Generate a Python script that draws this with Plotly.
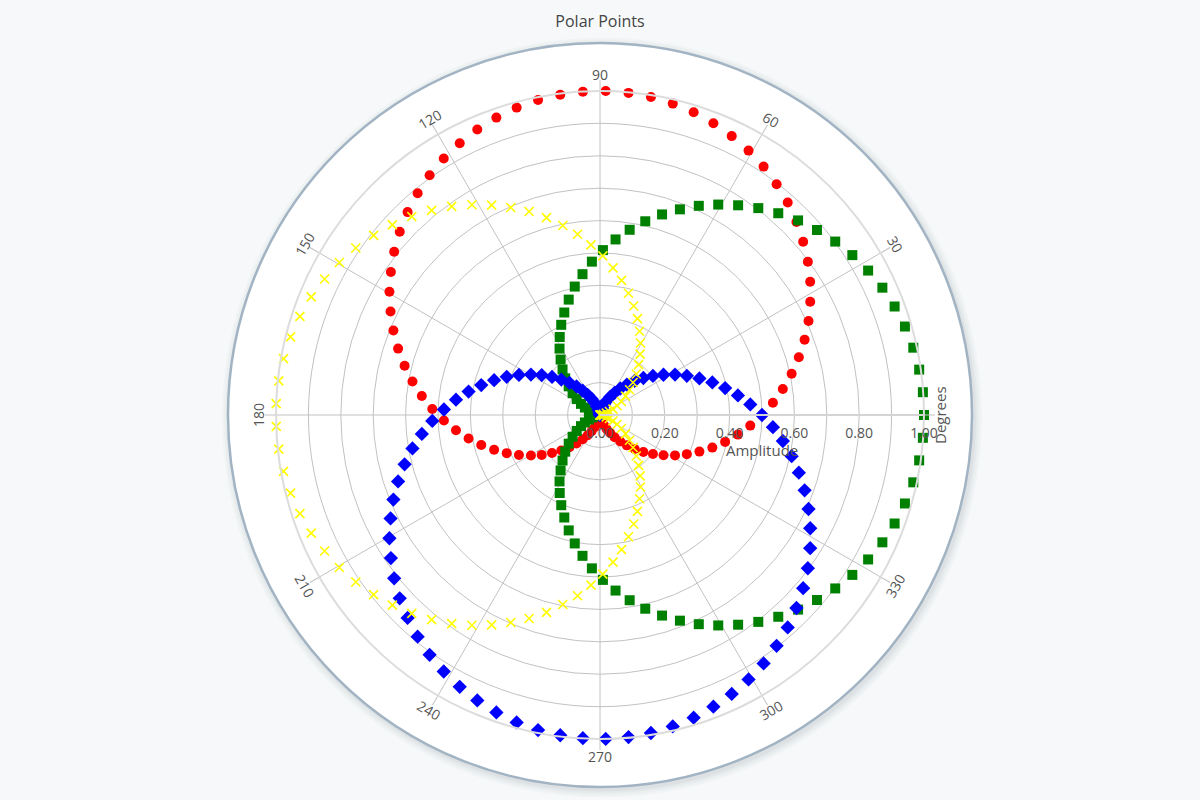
import numpy as np
import plotly.graph_objects as go

# ---- data ----
angle_deg = [
    0.00, 4.04, 8.09, 12.13, 16.18, 20.22, 24.27, 28.31, 32.36, 36.40,
    40.45, 44.49, 48.54, 52.58, 56.63, 60.67, 64.72, 68.76, 72.81, 76.85,
    80.90, 84.94, 88.99, 93.03, 97.08, 101.12, 105.17, 109.21, 113.26, 117.30,
    121.35, 125.39, 129.44, 133.48, 137.53, 141.57, 145.62, 149.66, 153.71, 157.75,
    161.80, 165.84, 169.89, 173.93, 177.98, 182.02, 186.07, 190.11, 194.16, 198.20,
    202.25, 206.29, 210.34, 214.38, 218.43, 222.47, 226.52, 230.56, 234.61, 238.65,
    242.70, 246.74, 250.79, 254.83, 258.88, 262.92, 266.97, 271.01, 275.06, 279.10,
    283.15, 287.19, 291.24, 295.28, 299.33, 303.37, 307.42, 311.46, 315.51, 319.55,
    323.60, 327.64, 331.69, 335.73, 339.78, 343.82, 347.87, 351.91, 355.96,
]
red_circles = [
    0.500, 0.535, 0.570, 0.605, 0.639, 0.673, 0.706, 0.737, 0.768, 0.797,
    0.824, 0.850, 0.875, 0.897, 0.918, 0.936, 0.952, 0.966, 0.978, 0.987,
    0.994, 0.998, 1.000, 0.999, 0.996, 0.991, 0.983, 0.972, 0.959, 0.944,
    0.927, 0.908, 0.886, 0.863, 0.838, 0.811, 0.782, 0.753, 0.721, 0.689,
    0.656, 0.622, 0.588, 0.553, 0.518, 0.482, 0.447, 0.412, 0.378, 0.344,
    0.311, 0.279, 0.247, 0.218, 0.189, 0.162, 0.137, 0.114, 0.092, 0.073,
    0.056, 0.041, 0.028, 0.017, 0.009, 0.004, 0.001, 0.000, 0.002, 0.006,
    0.013, 0.022, 0.034, 0.048, 0.064, 0.082, 0.103, 0.125, 0.150, 0.176,
    0.203, 0.232, 0.263, 0.294, 0.327, 0.361, 0.395, 0.430, 0.465,
]
green_squares = [
    1.000, 0.999, 0.995, 0.989, 0.980, 0.969, 0.956, 0.940, 0.922, 0.902,
    0.880, 0.857, 0.831, 0.804, 0.775, 0.745, 0.714, 0.681, 0.648, 0.614,
    0.579, 0.544, 0.509, 0.474, 0.438, 0.404, 0.369, 0.335, 0.303, 0.271,
    0.240, 0.210, 0.182, 0.156, 0.131, 0.108, 0.087, 0.068, 0.052, 0.037,
    0.025, 0.015, 0.008, 0.003, 0.000, 0.000, 0.003, 0.008, 0.015, 0.025,
    0.037, 0.052, 0.068, 0.087, 0.108, 0.131, 0.156, 0.182, 0.210, 0.240,
    0.271, 0.303, 0.335, 0.369, 0.404, 0.438, 0.474, 0.509, 0.544, 0.579,
    0.614, 0.648, 0.681, 0.714, 0.745, 0.775, 0.804, 0.831, 0.857, 0.880,
    0.902, 0.922, 0.940, 0.956, 0.969, 0.980, 0.989, 0.995, 0.999,
]
blue_diamonds = [
    0.500, 0.465, 0.430, 0.395, 0.361, 0.327, 0.294, 0.263, 0.232, 0.203,
    0.176, 0.150, 0.125, 0.103, 0.082, 0.064, 0.048, 0.034, 0.022, 0.013,
    0.006, 0.002, 0.000, 0.001, 0.004, 0.009, 0.017, 0.028, 0.041, 0.056,
    0.073, 0.092, 0.114, 0.137, 0.162, 0.189, 0.218, 0.247, 0.279, 0.311,
    0.344, 0.378, 0.412, 0.447, 0.482, 0.518, 0.553, 0.588, 0.622, 0.656,
    0.689, 0.721, 0.753, 0.782, 0.811, 0.838, 0.863, 0.886, 0.908, 0.927,
    0.944, 0.959, 0.972, 0.983, 0.991, 0.996, 0.999, 1.000, 0.998, 0.994,
    0.987, 0.978, 0.966, 0.952, 0.936, 0.918, 0.897, 0.875, 0.850, 0.824,
    0.797, 0.768, 0.737, 0.706, 0.673, 0.639, 0.605, 0.570, 0.535,
]
yellow_crosses = [
    0.000, 0.001, 0.005, 0.011, 0.020, 0.031, 0.044, 0.060, 0.078, 0.098,
    0.120, 0.143, 0.169, 0.196, 0.225, 0.255, 0.286, 0.319, 0.352, 0.386,
    0.421, 0.456, 0.491, 0.526, 0.562, 0.596, 0.631, 0.665, 0.697, 0.729,
    0.760, 0.790, 0.818, 0.844, 0.869, 0.892, 0.913, 0.932, 0.948, 0.963,
    0.975, 0.985, 0.992, 0.997, 1.000, 1.000, 0.997, 0.992, 0.985, 0.975,
    0.963, 0.948, 0.932, 0.913, 0.892, 0.869, 0.844, 0.818, 0.790, 0.760,
    0.729, 0.697, 0.665, 0.631, 0.596, 0.562, 0.526, 0.491, 0.456, 0.421,
    0.386, 0.352, 0.319, 0.286, 0.255, 0.225, 0.196, 0.169, 0.143, 0.120,
    0.098, 0.078, 0.060, 0.044, 0.031, 0.020, 0.011, 0.005, 0.001,
]
angular_ticks = [0, 30, 60, 90, 120, 150, 180, 210, 240, 270, 300, 330]
angular_labels = ["", "30", "60", "90", "120", "150", "180", "210", "240", "270", "300", "330"]
radial_ticks = [0.0, 0.1, 0.2, 0.3, 0.4, 0.5, 0.6, 0.7, 0.8, 0.9, 1.0]
radial_labels = ["0.00", "", "0.20", "", "0.40", "", "0.60", "", "0.80", "", "1.00"]

FONT = "Open Sans"
TXT = "#555555"

fig = go.Figure()
fig.add_trace(go.Scatterpolar(r=red_circles, theta=angle_deg, mode="markers",
                              marker=dict(symbol="circle", size=10, color="#ff0000")))
fig.add_trace(go.Scatterpolar(r=green_squares, theta=angle_deg, mode="markers",
                              marker=dict(symbol="square", size=10, color="#008000")))
fig.add_trace(go.Scatterpolar(r=blue_diamonds, theta=angle_deg, mode="markers",
                              marker=dict(symbol="diamond", size=11, color="#0000ff")))
fig.add_trace(go.Scatterpolar(r=yellow_crosses, theta=angle_deg, mode="markers",
                              marker=dict(symbol="x-thin", size=9, color="#ffff00",
                                          line=dict(color="#ffff00", width=1.6))))

# plot circle (white disc with border and soft shadow)
R_OUT = 372 / 324
shapes = []
for i, a in enumerate([0.025, 0.03, 0.035, 0.045]):
    d = (8 - 2 * i) / 324 / 2
    shapes.append(dict(type="circle", xref="paper", yref="paper",
                       x0=0.5 - R_OUT / 2 - d + 0.003, x1=0.5 + R_OUT / 2 + d + 0.003,
                       y0=0.5 - R_OUT / 2 - d - 0.004, y1=0.5 + R_OUT / 2 + d - 0.004,
                       fillcolor=f"rgba(60,80,100,{a})", line=dict(width=0), layer="below"))
shapes.append(dict(type="circle", xref="paper", yref="paper",
                   x0=0.5 - R_OUT / 2, x1=0.5 + R_OUT / 2,
                   y0=0.5 - R_OUT / 2, y1=0.5 + R_OUT / 2,
                   fillcolor="#ffffff", line=dict(color="#a2b4c3", width=2.5), layer="below"))

# tangential angular tick labels and axis titles
ann = []
LR = 341 / 324
for t, lab in zip(angular_ticks, angular_labels):
    if not lab:
        continue
    rad = np.radians(t)
    rot = 90 - t if t <= 180 else 270 - t
    ann.append(dict(text=lab, xref="paper", yref="paper",
                    x=0.5 + 0.5 * LR * np.cos(rad), y=0.5 + 0.5 * LR * np.sin(rad),
                    xanchor="center", yanchor="middle", showarrow=False, textangle=rot,
                    font=dict(family=FONT, size=14, color=TXT)))
ann.append(dict(text="Amplitude", xref="paper", yref="paper", x=0.75, y=0.446,
                xanchor="center", yanchor="middle", showarrow=False,
                font=dict(family=FONT, size=15, color=TXT)))
ann.append(dict(text="Degrees", xref="paper", yref="paper", x=(940 - 276) / 648, y=0.5,
                xanchor="center", yanchor="middle", showarrow=False, textangle=-90,
                font=dict(family=FONT, size=15, color=TXT)))

fig.update_layout(
    width=1200, height=800,
    margin=dict(l=276, r=276, t=91, b=61),
    paper_bgcolor="#f6f8f9",
    showlegend=False,
    title=dict(text="Polar Points", x=0.5, xanchor="center", y=1 - 21 / 800, yanchor="middle",
               font=dict(family=FONT, size=16, color="#444444")),
    shapes=shapes,
    annotations=ann,
    polar=dict(
        domain=dict(x=[0, 1], y=[0, 1]),
        bgcolor="rgba(0,0,0,0)",
        radialaxis=dict(range=[0, 1], tickvals=radial_ticks, ticktext=radial_labels, angle=0,
                        side="clockwise", ticks="outside", ticklen=5,
                        tickcolor="rgba(0,0,0,0)", showline=True, linecolor="#d4d4d4",
                        linewidth=2, gridcolor="#c2c2c2", gridwidth=1,
                        tickfont=dict(family=FONT, size=14, color=TXT)),
        angularaxis=dict(tickvals=angular_ticks, showticklabels=False,
                         direction="counterclockwise", rotation=0,
                         ticks="outside", ticklen=10, tickcolor="#c2c2c2",
                         gridcolor="#c2c2c2", gridwidth=1, showline=True,
                         linecolor="#dcdcdc", linewidth=2),
    ),
)
fig.write_html("out.html", config={"displayModeBar": False})

# remove the default page margin so the 1200x800 figure fills the window
with open("out.html", encoding="utf-8") as f:
    html = f.read()
html = html.replace("<head>", "<head><style>html,body{margin:0;padding:0;background:#f6f8f9;}</style>", 1)
with open("out.html", "w", encoding="utf-8") as f:
    f.write(html)
